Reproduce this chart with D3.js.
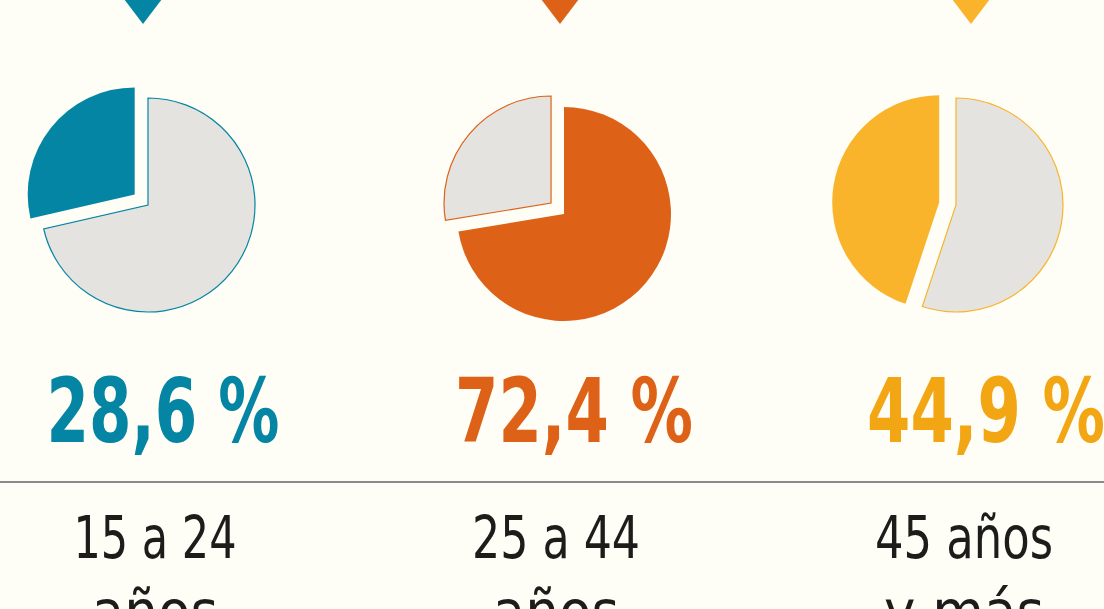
<!DOCTYPE html>
<html>
<head>
<meta charset="utf-8">
<script src="https://cdn.jsdelivr.net/npm/d3@7"></script>
<style>
  html, body { margin: 0; padding: 0; background: #fefdf6; }
  svg { display: block; }
</style>
</head>
<body>
<script>
// datos: porcentaje por grupo de edad
var grupos = ["15 a 24 años", "25 a 44 años", "45 años y más"];
var etiquetas = [["15 a 24", "años"], ["25 a 44", "años"], ["45 años", "y más"]];
var porcentajes = [28.6, 72.4, 44.9];
var colores = ["#0385a3", "#dd6218", "#f9b42b"];
var coloresTexto = ["#0385a3", "#dd6218", "#f3a614"];

var width = 1104, height = 609;
var gris = "#e4e3df";

var svg = d3.select("body").append("svg")
    .attr("width", width)
    .attr("height", height);

svg.append("rect").attr("width", width).attr("height", height).attr("fill", "#fefdf6");

// posiciones de columna (cada elemento un poco distinto, como en el original)
var xPie = d3.scaleOrdinal().domain(grupos).range([148, 564, 956]);
var yPie = d3.scaleOrdinal().domain(grupos).range([205, 214, 205]);
var xTri = d3.scaleOrdinal().domain(grupos).range([143, 560, 971]);
var xPct = d3.scaleOrdinal().domain(grupos).range([163, 574, 986]);
var wPct = d3.scaleOrdinal().domain(grupos).range([233, 238, 238]);
var xLab = d3.scaleOrdinal().domain(grupos).range([155, 556, 964]);
var wLab = d3.scaleOrdinal().domain(grupos).range([163, 168, 178]);

var radio = 107;
var pie = d3.pie();   // orden por valor: el mayor empieza a las 12
var arc = d3.arc().innerRadius(0).outerRadius(radio);

var col = svg.selectAll("g.col").data(grupos).enter().append("g").attr("class", "col");

// triangulos arriba
var tri = d3.line();
col.append("path")
    .attr("d", tri([[-19, -1], [19, -1], [0, 24]]) + "Z")
    .attr("transform", function (d) { return "translate(" + xTri(d) + ",0)"; })
    .attr("fill", function (d, i) { return colores[i]; });

// tortas
col.each(function (g, i) {
    var valores = [porcentajes[i], +(100 - porcentajes[i]).toFixed(1)];
    var arcos = pie(valores);
    var menor = valores[0] < valores[1] ? 0 : 1;
    var gp = d3.select(this).append("g")
        .attr("transform", "translate(" + xPie(g) + "," + yPie(g) + ")");
    gp.selectAll("path").data(arcos).enter().append("path")
        .attr("d", arc)
        .attr("transform", function (a, j) {
            if (j !== menor) return null;
            var m = (a.startAngle + a.endAngle) / 2;
            var off = 17;
            return "translate(" + (Math.sin(m) * off) + "," + (-Math.cos(m) * off) + ")";
        })
        .attr("fill", function (a, j) { return j === 0 ? colores[i] : gris; })
        .attr("stroke", function (a, j) { return j === 0 ? "none" : colores[i]; })
        .attr("stroke-width", 1.2);
});

// porcentajes
col.append("text")
    .attr("x", function (d) { return xPct(d); })
    .attr("y", 442)
    .attr("text-anchor", "middle")
    .attr("font-family", "'DejaVu Sans Condensed', 'DejaVu Sans', sans-serif")
    .attr("font-weight", "bold")
    .attr("font-size", 89)
    .attr("textLength", function (d) { return wPct(d); })
    .attr("lengthAdjust", "spacingAndGlyphs")
    .attr("fill", function (d, i) { return coloresTexto[i]; })
    .text(function (d, i) { return porcentajes[i].toFixed(1).replace(".", ",") + " %"; });

// linea separadora
svg.append("line")
    .attr("x1", 0).attr("x2", width)
    .attr("y1", 482).attr("y2", 482)
    .attr("stroke", "#8a8a88")
    .attr("stroke-width", 2);

// etiquetas de edad
col.each(function (g, i) {
    var t = d3.select(this).append("text")
        .attr("text-anchor", "middle")
        .attr("font-family", "'DejaVu Sans Condensed', 'DejaVu Sans', sans-serif")
        .attr("font-size", 59)
        .attr("fill", "#1c1c1a");
    t.selectAll("tspan").data(etiquetas[i]).enter().append("tspan")
        .attr("x", xLab(g))
        .attr("y", function (d, j) { return 558 + j * 74; })
        .attr("textLength", function (d, j) { return j === 0 ? wLab(g) : null; })
        .attr("lengthAdjust", "spacingAndGlyphs")
        .text(function (d) { return d; });
});
</script>
</body>
</html>
